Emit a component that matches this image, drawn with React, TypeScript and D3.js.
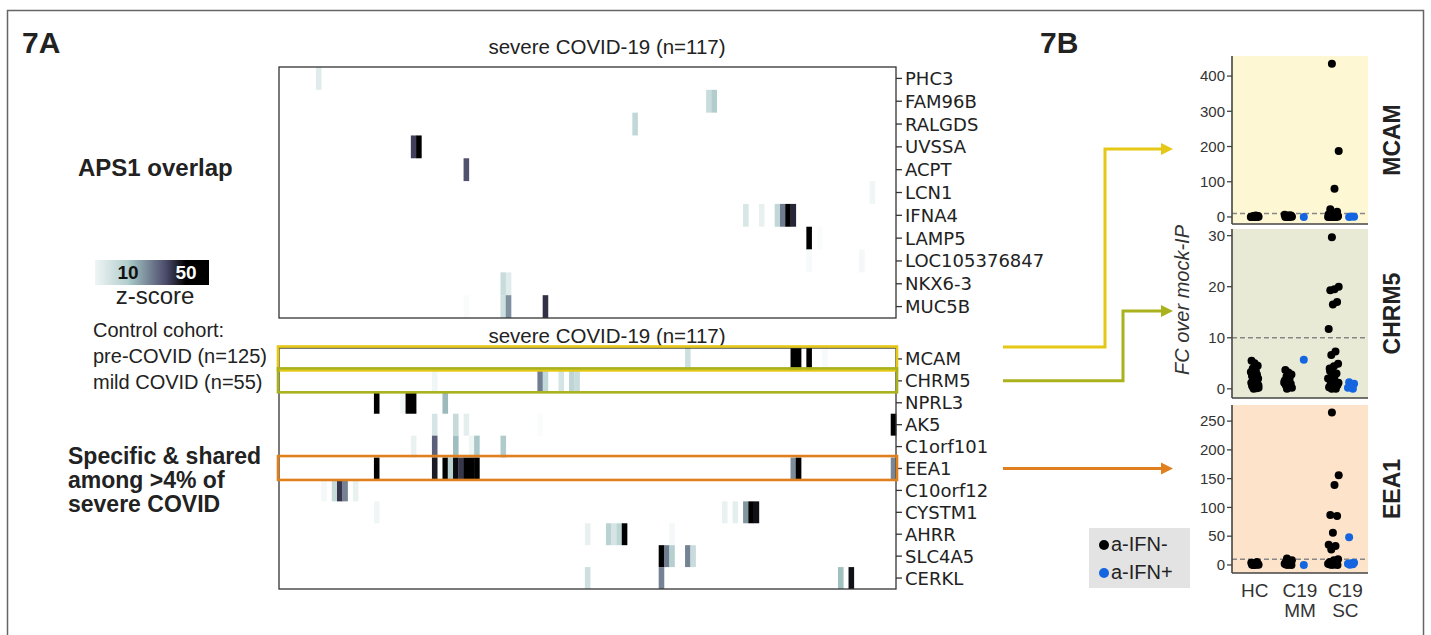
import * as d3 from 'd3';

const W = 1431, H = 635;
const SANS = 'Liberation Sans, Arial, sans-serif';

// ---- panel 7A : heatmaps ----
const nSevere = 117;
const genesAps1 = ['PHC3', 'FAM96B', 'RALGDS', 'UVSSA', 'ACPT', 'LCN1', 'IFNA4', 'LAMP5', 'LOC105376847', 'NKX6-3', 'MUC5B'];
const genesShared = ['MCAM', 'CHRM5', 'NPRL3', 'AK5', 'C1orf101', 'EEA1', 'C10orf12', 'CYSTM1', 'AHRR', 'SLC4A5', 'CERKL'];

// [gene, patient index, z-score]
const aps1Cells: [string, number, number][] = [
  ['PHC3', 7, 4],
  ['FAM96B', 81, 7], ['FAM96B', 82, 10],
  ['RALGDS', 67, 8],
  ['UVSSA', 25, 38], ['UVSSA', 26, 55],
  ['ACPT', 35, 35],
  ['LCN1', 112, 2],
  ['IFNA4', 88, 5], ['IFNA4', 91, 3], ['IFNA4', 94, 8], ['IFNA4', 95, 26], ['IFNA4', 96, 55], ['IFNA4', 97, 43],
  ['LAMP5', 100, 55], ['LAMP5', 102, 0.7],
  ['LOC105376847', 100, 1], ['LOC105376847', 110, 1.5],
  ['NKX6-3', 42, 7], ['NKX6-3', 43, 4],
  ['MUC5B', 35, 0.7], ['MUC5B', 42, 6.5], ['MUC5B', 43, 22], ['MUC5B', 50, 41],
];

const sharedCells: [string, number, number][] = [
  ['MCAM', 77, 6.5], ['MCAM', 97, 55], ['MCAM', 98, 55], ['MCAM', 100, 55], ['MCAM', 103, 1],
  ['CHRM5', 29, 2], ['CHRM5', 49, 26], ['CHRM5', 50, 8], ['CHRM5', 53, 5.5], ['CHRM5', 55, 8.5], ['CHRM5', 56, 7],
  ['NPRL3', 18, 55], ['NPRL3', 23, 1.8], ['NPRL3', 24, 55], ['NPRL3', 25, 55], ['NPRL3', 31, 14],
  ['AK5', 29, 5.5], ['AK5', 33, 7.5], ['AK5', 35, 3.5], ['AK5', 49, 0.7], ['AK5', 116, 55],
  ['C1orf101', 25, 2.8], ['C1orf101', 29, 32], ['C1orf101', 33, 13], ['C1orf101', 36, 2], ['C1orf101', 37, 11], ['C1orf101', 42, 10.5],
  ['EEA1', 18, 55], ['EEA1', 29, 45], ['EEA1', 31, 55], ['EEA1', 32, 9], ['EEA1', 33, 48], ['EEA1', 34, 40],
  ['EEA1', 35, 55], ['EEA1', 36, 55], ['EEA1', 37, 55], ['EEA1', 97, 23], ['EEA1', 98, 55], ['EEA1', 116, 24],
  ['C10orf12', 8, 1.5], ['C10orf12', 10, 7.5], ['C10orf12', 11, 40], ['C10orf12', 12, 25], ['C10orf12', 14, 2.8],
  ['CYSTM1', 18, 2], ['CYSTM1', 84, 2.8], ['CYSTM1', 86, 3.5], ['CYSTM1', 88, 21], ['CYSTM1', 89, 55], ['CYSTM1', 90, 47],
  ['AHRR', 58, 3], ['AHRR', 62, 9], ['AHRR', 63, 5.5], ['AHRR', 64, 8.5], ['AHRR', 65, 55], ['AHRR', 74, 1.5],
  ['SLC4A5', 72, 55], ['SLC4A5', 73, 26], ['SLC4A5', 74, 9.5], ['SLC4A5', 77, 25], ['SLC4A5', 78, 7],
  ['CERKL', 58, 6.5], ['CERKL', 72, 25], ['CERKL', 106, 12.5], ['CERKL', 108, 47],
];

const legendTicks = [10, 50];

const highlightGenes = ['MCAM', 'CHRM5', 'EEA1'];
const highlightColors = ['#e5c815', '#a9b21d', '#e07f1d'];
const panelBg = ['#fdf7d3', '#e9ead6', '#fde3c9'];

// ---- panel 7B : FC over mock-IP ----
const fcGroups = ['HC', 'C19 MM', 'C19 SC'];

// per group [HC, C19 MM, C19 SC]
const mcamNeg = [
  [0, 0.5, 1, 1.5, 2, 0, 0.3, 0.8, 1.2, 2.5, 3, 0, 0.6, 1.8, 0.2, 4, 0.4, 1, 2, 0.1],
  [0, 0.5, 1, 2, 3, 4, 6, 0.2, 1.5, 2.5, 0.8, 0, 5, 1.2],
  [435, 187, 80, 22, 15, 11, 8, 6, 4, 3, 2, 1.5, 1, 0.5, 0, 0, 0.2, 0.8, 2.5, 5, 0.3, 1.2],
];
const mcamPos = [[], [0], [0, 0.5, 1]];
const mcamTicks = [0, 100, 200, 300, 400];

const chrm5Neg = [
  [0, 0.2, 0.4, 0.6, 0.8, 1, 1.2, 1.5, 1.8, 2, 2.2, 2.5, 2.8, 3, 3.3, 3.6, 4, 4.5, 5, 5.5, 0.1, 0.3, 0.7, 1.1, 0.5, 1.6],
  [0, 0.2, 0.4, 0.7, 1, 1.3, 1.6, 2, 2.4, 2.8, 3.2, 3.7, 0.5, 0.9, 1.2],
  [29.7, 20, 19.5, 19.3, 17, 16.5, 11.7, 7.3, 6.6, 4.9, 4.4, 4, 3, 2.5, 2, 1.5, 1, 0.8, 0.5, 0.3, 0, 0, 1.2, 2.2, 3.5, 0.6],
];
const chrm5Pos = [[], [5.7], [1.3, 1, 0.6, 0.2, 0, 0.4]];
const chrm5Ticks = [0, 10, 20, 30];

const eea1Neg = [
  [0, 0.5, 1, 1.5, 2, 3, 4, 0.2, 0.8, 1.2, 2.5, 0.4, 5, 0.1],
  [11, 8, 6, 5, 4, 3, 2, 1, 0.5, 0, 0.2, 1.5, 2.5, 0.8],
  [265, 156, 139, 87, 85, 56, 35, 33, 27, 10, 8, 5, 4, 3, 2, 1, 0.5, 0, 0.2, 1.5, 2.5, 0.8],
];
const eea1Pos = [[], [0], [48, 4, 3, 2, 1, 0.5]];
const eea1Ticks = [0, 50, 100, 150, 200, 250];

const threshold = 10;

const panels = [
  { gene: 'MCAM', neg: mcamNeg, pos: mcamPos, ticks: mcamTicks, domain: [-20, 457], top: 56, bottom: 224 },
  { gene: 'CHRM5', neg: chrm5Neg, pos: chrm5Pos, ticks: chrm5Ticks, domain: [-1.8, 31.3], top: 229, bottom: 398 },
  { gene: 'EEA1', neg: eea1Neg, pos: eea1Pos, ticks: eea1Ticks, domain: [-14, 278], top: 405, bottom: 573 },
];

const zColor = d3.scaleLinear<string>()
  .domain([0, 12, 36, 50])
  .range(['#ffffff', '#a3c3c3', '#4c4b6b', '#000000'])
  .clamp(true);

const hmLeft = 279, hmRight = 896;
const xCol = d3.scaleBand<number>().domain(d3.range(nSevere)).range([hmLeft, hmRight]);
const yAps1 = d3.scaleBand<string>().domain(genesAps1).range([67, 318]);
const yShared = d3.scaleBand<string>().domain(genesShared).range([348, 589]);

const fcX = d3.scaleBand<string>().domain(fcGroups).range([1232, 1368]);

const jitter = (i: number, w: number) => (((i * 0.618034 + 0.37) % 1) - 0.5) * w;

function Heatmap({ genes, cells, y }: { genes: string[], cells: [string, number, number][], y: d3.ScaleBand<string> }) {
  const [y0, y1] = y.range();
  return (
    <g>
      {cells.map(([g, c, z], i) => (
        <rect key={i} x={xCol(c)} y={y(g)} width={xCol.bandwidth() + 0.3} height={y.bandwidth()} fill={zColor(z)} />
      ))}
      <rect x={hmLeft} y={y0} width={hmRight - hmLeft} height={y1 - y0} fill="none" stroke="#333" strokeWidth={1.3} />
      {genes.map(g => {
        const cy = y(g)! + y.bandwidth() / 2;
        return (
          <g key={g}>
            <line x1={hmRight} x2={hmRight + 6} y1={cy} y2={cy} stroke="#333" strokeWidth={1.3} />
            <text x={hmRight + 9} y={cy} dy="0.36em" fontFamily="DejaVu Sans, sans-serif" fontSize={18} fill="#222">{g}</text>
          </g>
        );
      })}
    </g>
  );
}

function FcPanel({ p, idx }: { p: typeof panels[number], idx: number }) {
  const y = d3.scaleLinear().domain(p.domain).range([p.bottom, p.top]);
  const [x0, x1] = fcX.range();
  const bw = fcX.bandwidth();
  const pts: { x: number, y: number, c: string }[] = [];
  fcGroups.forEach((g, gi) => {
    const cx = fcX(g)! + bw / 2;
    const dodge = p.pos[gi].length > 0;
    const w = gi === 2 ? 11 : 8;
    p.neg[gi].forEach((v, i) => pts.push({ x: cx + (dodge ? -12 : 0) + jitter(i, w), y: y(v), c: '#000' }));
    p.pos[gi].forEach((v, i) => pts.push({ x: cx + 6 + jitter(i + 3, 8), y: y(v), c: '#1565e0' }));
  });
  return (
    <g>
      <rect x={x0} y={p.top} width={x1 - x0} height={p.bottom - p.top} fill={panelBg[idx]} />
      <line x1={x0} x2={x1} y1={y(threshold)} y2={y(threshold)} stroke="#888" strokeWidth={1.4} strokeDasharray="5,3" />
      {pts.map((d, i) => <circle key={i} cx={d.x} cy={d.y} r={4} fill={d.c} />)}
      <line x1={x0} x2={x0} y1={p.top} y2={p.bottom} stroke="#444" strokeWidth={1.6} />
      <line x1={x0} x2={x1} y1={p.bottom} y2={p.bottom} stroke="#444" strokeWidth={1.6} />
      {p.ticks.map(t => (
        <g key={t}>
          <line x1={x0 - 5} x2={x0} y1={y(t)} y2={y(t)} stroke="#444" strokeWidth={1.3} />
          <text x={x0 - 7} y={y(t)} dy="0.35em" textAnchor="end" fontFamily={SANS} fontSize={15} fill="#333">{t}</text>
        </g>
      ))}
      <text transform={`translate(1400,${(p.top + p.bottom) / 2}) rotate(-90)`} textAnchor="middle"
        fontFamily={SANS} fontWeight="bold" fontSize={23} fill="#222">{p.gene}</text>
    </g>
  );
}

function Arrow({ pts, color }: { pts: [number, number][], color: string }) {
  const [tx, ty] = pts[pts.length - 1];
  const line = d3.line();
  const shaft = pts.slice(0, -1).concat([[tx - 8, ty]]);
  return (
    <g>
      <path d={line(shaft)!} fill="none" stroke={color} strokeWidth={3} />
      <path d={`M${tx},${ty}L${tx - 12},${ty - 6}L${tx - 12},${ty + 6}Z`} fill={color} />
    </g>
  );
}

export default function App() {
  // colour bar: piecewise position scale so the 10 / 50 labels sit where the reference has them
  const legendX = d3.scaleLinear().domain([2, 10, 50, 60]).range([95, 128, 186, 209]);
  const stops = d3.range(2, 61, 1);
  const rowMid = (g: string) => yShared(g)! + yShared.bandwidth() / 2;
  const arrowStarts = [yShared('MCAM')! - 1, rowMid('CHRM5'), rowMid('EEA1')];
  const arrowPaths: [number, number][][] = [
    [[1003, arrowStarts[0]], [1105, arrowStarts[0]], [1105, 149], [1173, 149]],
    [[1003, arrowStarts[1]], [1123, arrowStarts[1]], [1123, 311], [1173, 311]],
    [[1003, arrowStarts[2]], [1173, arrowStarts[2]]],
  ];
  const lastPanel = panels[panels.length - 1];
  const titleX = 607;
  return (
    <svg width={W} height={H} style={{ position: 'absolute', left: 0, top: 0, display: 'block' }}>
      <rect x={0} y={0} width={W} height={H} fill="#fff" />
      <rect x={7.5} y={10.5} width={1416} height={660} fill="none" stroke="#666" strokeWidth={1.5} />

      <text x={22} y={53} fontFamily={SANS} fontWeight="bold" fontSize={30} fill="#222">7A</text>
      <text x={1040} y={53} fontFamily={SANS} fontWeight="bold" fontSize={30} fill="#222">7B</text>

      {/* heatmaps */}
      <text x={titleX} y={54} textAnchor="middle" fontFamily={SANS} fontSize={20.5} fill="#222">severe COVID-19 (n=117)</text>
      <Heatmap genes={genesAps1} cells={aps1Cells} y={yAps1} />
      <text x={titleX} y={343} textAnchor="middle" fontFamily={SANS} fontSize={20.5} fill="#222">severe COVID-19 (n=117)</text>
      <Heatmap genes={genesShared} cells={sharedCells} y={yShared} />

      {highlightGenes.map((g, i) => (
        <rect key={g} x={hmLeft - 1} y={yShared(g)! - 1.5} width={hmRight - hmLeft + 2} height={yShared.bandwidth() + 2}
          fill="none" stroke={highlightColors[i]} strokeWidth={2.6} />
      ))}

      {/* left annotations */}
      <text x={78} y={176} fontFamily={SANS} fontWeight="bold" fontSize={24} fill="#222">APS1 overlap</text>
      <defs>
        <linearGradient id="zgrad" x1="0" x2="1" y1="0" y2="0">
          {stops.map(z => <stop key={z} offset={(legendX(z) - 95) / 114} stopColor={zColor(z)} />)}
        </linearGradient>
      </defs>
      <rect x={95} y={260} width={114} height={25} fill="url(#zgrad)" />
      {legendTicks.map((t, i) => (
        <text key={t} x={legendX(t)} y={279} textAnchor="middle" fontFamily={SANS} fontWeight="bold" fontSize={19}
          fill={i === 0 ? '#111' : '#fff'}>{t}</text>
      ))}
      <text x={155} y={304} textAnchor="middle" fontFamily={SANS} fontSize={24} fill="#222">z-score</text>
      <text x={93} y={337} fontFamily={SANS} fontSize={20} fill="#222">Control cohort:</text>
      <text x={93} y={363} fontFamily={SANS} fontSize={20} fill="#222">pre-COVID (n=125)</text>
      <text x={93} y={389} fontFamily={SANS} fontSize={20} fill="#222">mild COVID (n=55)</text>
      <text fontFamily={SANS} fontWeight="bold" fontSize={23} fill="#222">
        <tspan x={68} y={464}>Specific &amp; shared</tspan>
        <tspan x={68} y={488}>among &gt;4% of</tspan>
        <tspan x={68} y={512}>severe COVID</tspan>
      </text>

      {arrowPaths.map((p, i) => <Arrow key={i} pts={p} color={highlightColors[i]} />)}

      {/* panel B */}
      {panels.map((p, i) => <FcPanel key={p.gene} p={p} idx={i} />)}
      <text transform="translate(1189,300) rotate(-90)" textAnchor="middle" fontFamily={SANS} fontStyle="italic"
        fontSize={20} fill="#333">FC over mock-IP</text>
      {fcGroups.map(g => {
        const cx = fcX(g)! + fcX.bandwidth() / 2;
        const parts = g.split(' ');
        return (
          <text key={g} textAnchor="middle" fontFamily={SANS} fontSize={19} fill="#333">
            {parts.map((s, k) => <tspan key={k} x={cx} y={lastPanel.bottom + 24 + k * 20}>{s}</tspan>)}
          </text>
        );
      })}

      <rect x={1089} y={528} width={101} height={60} fill="#e3e3e3" />
      <circle cx={1104} cy={545} r={5} fill="#000" />
      <text x={1111} y={551} fontFamily={SANS} fontSize={20} fill="#222">a-IFN-</text>
      <circle cx={1104} cy={573} r={5} fill="#1565e0" />
      <text x={1111} y={579} fontFamily={SANS} fontSize={20} fill="#222">a-IFN+</text>
    </svg>
  );
}
